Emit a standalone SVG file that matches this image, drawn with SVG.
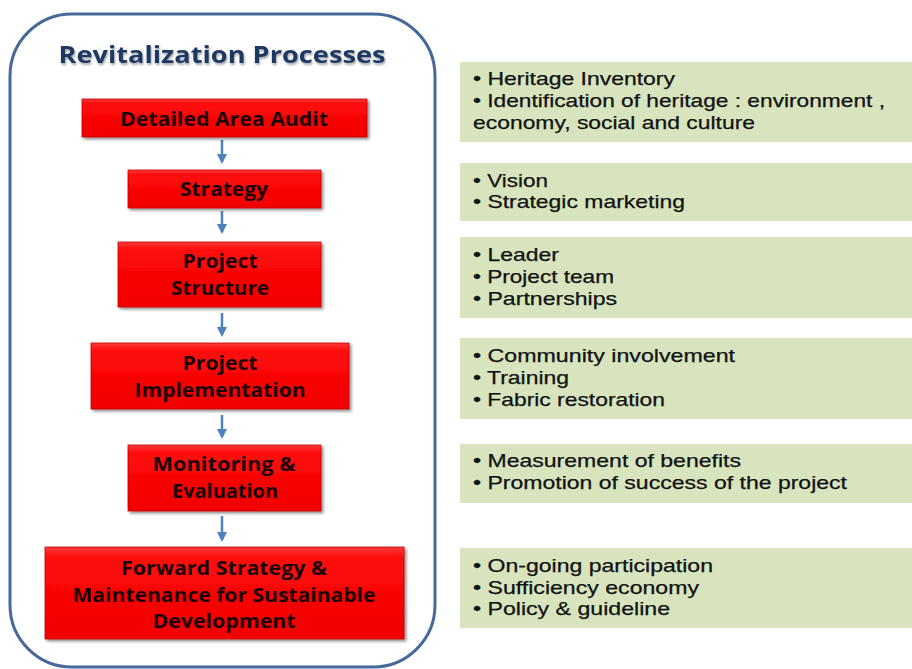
<svg xmlns="http://www.w3.org/2000/svg" width="912" height="669" viewBox="0 0 912 669">
<defs>
<linearGradient id="redg" x1="0" y1="0" x2="0" y2="1">
<stop offset="0" stop-color="#ff3b3b"/>
<stop offset="0.12" stop-color="#ff0a0a"/>
<stop offset="1" stop-color="#f20000"/>
</linearGradient>
<filter id="sh" x="-10%" y="-10%" width="125%" height="140%">
<feGaussianBlur in="SourceAlpha" stdDeviation="1.5"/>
<feOffset dx="1.5" dy="2" result="o"/>
<feComponentTransfer><feFuncA type="linear" slope="0.45"/></feComponentTransfer>
<feMerge><feMergeNode/><feMergeNode in="SourceGraphic"/></feMerge>
</filter>
<filter id="tsh" x="-5%" y="-20%" width="110%" height="150%">
<feGaussianBlur in="SourceAlpha" stdDeviation="1"/>
<feOffset dx="1" dy="1.5" result="o"/>
<feComponentTransfer><feFuncA type="linear" slope="0.35"/></feComponentTransfer>
<feMerge><feMergeNode/><feMergeNode in="SourceGraphic"/></feMerge>
</filter>
<marker id="ah" viewBox="0 0 10 10" refX="8" refY="5" markerWidth="4" markerHeight="4" orient="auto" markerUnits="strokeWidth">
<path d="M0,0 L10,5 L0,10 z" fill="#4f81bd"/>
</marker>
</defs>
<style>
.red{fill:url(#redg);stroke:#c00000;stroke-width:0.8;filter:url(#sh)}
.rt{font-family:"Open Sans","Liberation Sans",sans-serif;font-weight:bold;font-size:19px;fill:#1a0000;text-anchor:middle}
.grn{fill:#d7e4bd}
.gt{font-family:"Liberation Sans",Arial,sans-serif;font-size:19px;fill:#111;stroke:#111;stroke-width:0.25}
.con{stroke:#4f81bd;stroke-width:2.5;fill:none;marker-end:url(#ah)}
</style>
<rect width="912" height="669" fill="#ffffff"/>

<g id="frame">
<rect x="10" y="14" width="425" height="653" rx="62" ry="62" fill="none" stroke="#46699a" stroke-width="3"/>
<text x="222" y="63" font-family="Open Sans, Liberation Sans, sans-serif" font-weight="bold" font-size="23" fill="#1f3864" text-anchor="middle" textLength="327" lengthAdjust="spacingAndGlyphs" filter="url(#tsh)">Revitalization Processes</text>
</g>

<g id="connectors">
<line class="con" x1="222" y1="140" x2="222" y2="162"/>
<line class="con" x1="222" y1="211" x2="222" y2="232"/>
<line class="con" x1="222" y1="313" x2="222" y2="335"/>
<line class="con" x1="222" y1="415" x2="222" y2="437"/>
<line class="con" x1="222" y1="516" x2="222" y2="540"/>
</g>

<g id="n1">
<rect class="red" x="82" y="99" width="285" height="38"/>
<text class="rt" x="224" y="126" textLength="208" lengthAdjust="spacingAndGlyphs">Detailed Area Audit</text>
</g>
<g id="n2">
<rect class="red" x="128" y="170" width="193" height="38"/>
<text class="rt" x="224" y="196" textLength="88" lengthAdjust="spacingAndGlyphs">Strategy</text>
</g>
<g id="n3">
<rect class="red" x="118" y="242" width="203" height="65"/>
<text class="rt" x="220" y="268" textLength="75" lengthAdjust="spacingAndGlyphs">Project</text>
<text class="rt" x="220" y="295" textLength="98" lengthAdjust="spacingAndGlyphs">Structure</text>
</g>
<g id="n4">
<rect class="red" x="91" y="343" width="258" height="66"/>
<text class="rt" x="220" y="370" textLength="75" lengthAdjust="spacingAndGlyphs">Project</text>
<text class="rt" x="220" y="397" textLength="171" lengthAdjust="spacingAndGlyphs">Implementation</text>
</g>
<g id="n5">
<rect class="red" x="128" y="445" width="193" height="66"/>
<text class="rt" x="224" y="471" textLength="143" lengthAdjust="spacingAndGlyphs">Monitoring &amp;</text>
<text class="rt" x="225" y="498" textLength="106" lengthAdjust="spacingAndGlyphs">Evaluation</text>
</g>
<g id="n6">
<rect class="red" x="45" y="547" width="359" height="92"/>
<text class="rt" x="224" y="575" textLength="206" lengthAdjust="spacingAndGlyphs">Forward Strategy &amp;</text>
<text class="rt" x="224" y="602" textLength="303" lengthAdjust="spacingAndGlyphs">Maintenance for Sustainable</text>
<text class="rt" x="224" y="628" textLength="143" lengthAdjust="spacingAndGlyphs">Development</text>
</g>

<g id="d1">
<rect class="grn" x="460" y="62" width="452" height="80"/>
<text class="gt" x="473" y="85" textLength="202" lengthAdjust="spacingAndGlyphs">• Heritage Inventory</text>
<text class="gt" x="473" y="107" textLength="412" lengthAdjust="spacingAndGlyphs">• Identification of heritage : environment ,</text>
<text class="gt" x="473" y="129" textLength="282" lengthAdjust="spacingAndGlyphs">economy, social and culture</text>
</g>
<g id="d2">
<rect class="grn" x="460" y="163" width="452" height="58"/>
<text class="gt" x="473" y="187" textLength="75" lengthAdjust="spacingAndGlyphs">• Vision</text>
<text class="gt" x="473" y="208" textLength="212" lengthAdjust="spacingAndGlyphs">• Strategic marketing</text>
</g>
<g id="d3">
<rect class="grn" x="460" y="237" width="452" height="81"/>
<text class="gt" x="473" y="261" textLength="86" lengthAdjust="spacingAndGlyphs">• Leader</text>
<text class="gt" x="473" y="283" textLength="141" lengthAdjust="spacingAndGlyphs">• Project team</text>
<text class="gt" x="473" y="305" textLength="144" lengthAdjust="spacingAndGlyphs">• Partnerships</text>
</g>
<g id="d4">
<rect class="grn" x="460" y="338" width="452" height="81"/>
<text class="gt" x="473" y="362" textLength="262" lengthAdjust="spacingAndGlyphs">• Community involvement</text>
<text class="gt" x="473" y="384" textLength="96" lengthAdjust="spacingAndGlyphs">• Training</text>
<text class="gt" x="473" y="406" textLength="192" lengthAdjust="spacingAndGlyphs">• Fabric restoration</text>
</g>
<g id="d5">
<rect class="grn" x="460" y="444" width="452" height="59"/>
<text class="gt" x="473" y="467" textLength="268" lengthAdjust="spacingAndGlyphs">• Measurement of benefits</text>
<text class="gt" x="473" y="489" textLength="374" lengthAdjust="spacingAndGlyphs">• Promotion of success of the project</text>
</g>
<g id="d6">
<rect class="grn" x="460" y="548" width="452" height="80"/>
<text class="gt" x="473" y="572" textLength="240" lengthAdjust="spacingAndGlyphs">• On-going participation</text>
<text class="gt" x="473" y="594" textLength="226" lengthAdjust="spacingAndGlyphs">• Sufficiency economy</text>
<text class="gt" x="473" y="615" textLength="197" lengthAdjust="spacingAndGlyphs">• Policy &amp; guideline</text>
</g>
</svg>
